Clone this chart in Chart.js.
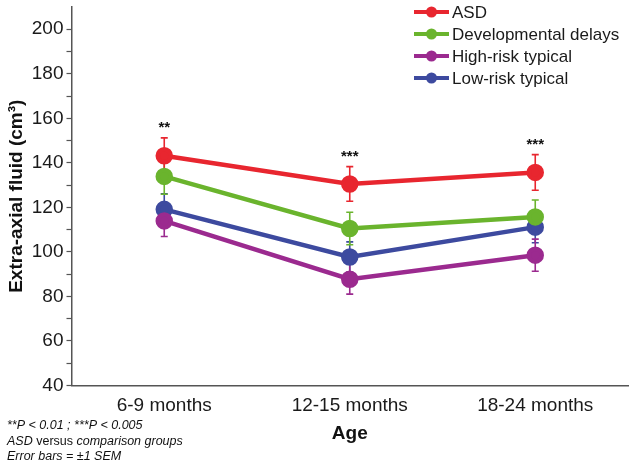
<!DOCTYPE html>
<html>
<head>
<meta charset="utf-8">
<script src="https://cdn.jsdelivr.net/npm/chart.js@4/dist/chart.umd.min.js"></script>
<style>
html,body{margin:0;padding:0;background:#fff;overflow:hidden;}
#wrap{width:633px;height:465px;position:relative;}
canvas{display:block;}
</style>
</head>
<body>
<div id="wrap"><canvas id="c" width="633" height="465"></canvas></div>
<script>
const categories = ["6-9 months", "12-15 months", "18-24 months"];
const seriesNames = ["ASD", "Developmental delays", "High-risk typical", "Low-risk typical"];
const asd = [143.2, 130.5, 135.7];
const devDelays = [133.9, 110.5, 115.7];
const highRisk = [113.9, 87.7, 98.5];
const lowRisk = [119.1, 97.7, 111.1];
const asdErr = [8.0, 7.8, 8.0];
const devDelaysErr = [8.0, 7.3, 7.6];
const highRiskErr = [7.0, 6.7, 7.2];
const lowRiskErr = [7.0, 6.8, 7.0];
const significance = ["**", "***", "***"];
const yTickLabels = [40, 60, 80, 100, 120, 140, 160, 180, 200];
const footnotes = [
  [["**P < 0.01 ; ***P < 0.005", true]],
  [["ASD", true], [" versus ", false], ["comparison groups", true]],
  [["Error bars = \u00b11 SEM", true]]
];

const colors = ["#e8262f", "#6ab42d", "#9b2a8f", "#3d4a9f"];
const values = [asd, devDelays, highRisk, lowRisk];
const errs = [asdErr, devDelaysErr, highRiskErr, lowRiskErr];
const FONT = "'Liberation Sans', Arial, sans-serif";

const errorBarPlugin = {
  id: 'errorBars',
  beforeDatasetsDraw(chart) {
    const ctx = chart.ctx;
    const ys = chart.scales.y;
    ctx.save();
    for (let d = values.length - 1; d >= 0; d--) {
      const meta = chart.getDatasetMeta(d);
      ctx.strokeStyle = colors[d];
      ctx.lineWidth = 1.6;
      meta.data.forEach((pt, i) => {
        const x = pt.x;
        const yt = ys.getPixelForValue(values[d][i] + errs[d][i]);
        const yb = ys.getPixelForValue(values[d][i] - errs[d][i]);
        ctx.beginPath();
        ctx.moveTo(x, yt); ctx.lineTo(x, yb);
        ctx.moveTo(x - 3.5, yt); ctx.lineTo(x + 3.5, yt);
        ctx.moveTo(x - 3.5, yb); ctx.lineTo(x + 3.5, yb);
        ctx.stroke();
      });
    }
    ctx.restore();
  },
  afterDraw(chart) {
    const ctx = chart.ctx;
    const ys = chart.scales.y;
    ctx.save();
    const meta0 = chart.getDatasetMeta(0);
    ctx.fillStyle = "#111";
    ctx.font = "bold 15px " + FONT;
    ctx.textAlign = "center";
    ctx.textBaseline = "middle";
    meta0.data.forEach((pt, i) => {
      const yt = ys.getPixelForValue(asd[i] + asdErr[i]);
      ctx.fillText(significance[i], pt.x, yt - 10);
    });
    ctx.textAlign = "left";
    ctx.font = "17px " + FONT;
    const lx0 = 414, lx1 = 449, rowY = [12, 34, 56, 78];
    seriesNames.forEach((name, i) => {
      const y = rowY[i];
      ctx.strokeStyle = colors[i];
      ctx.lineWidth = 4;
      ctx.beginPath(); ctx.moveTo(lx0, y); ctx.lineTo(lx1, y); ctx.stroke();
      ctx.fillStyle = colors[i];
      ctx.beginPath(); ctx.arc((lx0 + lx1) / 2, y, 5.5, 0, Math.PI * 2); ctx.fill();
      ctx.fillStyle = "#1a1a1a";
      ctx.fillText(name, 452, y + 1);
    });
    ctx.fillStyle = "#111";
    const fy = [426, 442, 457];
    footnotes.forEach((line, i) => {
      let x = 7;
      line.forEach(([txt, it]) => {
        ctx.font = (it ? "italic " : "") + "12.5px " + FONT;
        ctx.fillText(txt, x, fy[i]);
        x += ctx.measureText(txt).width;
      });
    });
    ctx.restore();
  }
};

new Chart(document.getElementById('c'), {
  type: 'line',
  data: {
    labels: categories,
    datasets: seriesNames.map((name, i) => ({
      label: name,
      data: values[i],
      borderColor: colors[i],
      backgroundColor: colors[i],
      pointBackgroundColor: colors[i],
      pointBorderColor: colors[i],
      pointRadius: 6.5,
      pointHoverRadius: 6.5,
      borderWidth: 4.5,
      tension: 0
    }))
  },
  options: {
    responsive: false,
    animation: false,
    events: [],
    layout: { autoPadding: false, padding: { top: 7, right: 5, bottom: 20, left: 0 } },
    plugins: { legend: { display: false }, tooltip: { enabled: false } },
    scales: {
      x: {
        offset: true,
        grid: { display: true, drawOnChartArea: false, drawTicks: false },
        border: { display: true, color: '#555', width: 1.5 },
        ticks: { color: '#1a1a1a', font: { family: FONT, size: 19 }, padding: 9 },
        title: { display: true, text: 'Age', color: '#111', font: { family: FONT, size: 19, weight: 'bold' }, padding: { top: -4, bottom: 0 } },
        afterFit(scale) { scale.paddingLeft = 0; scale.paddingRight = 0; }
      },
      y: {
        min: 40, max: 210,
        afterBuildTicks(scale) {
          const t = [];
          for (let v = 40; v <= 200; v += 10) t.push({ value: v });
          scale.ticks = t;
        },
        afterFit(scale) { scale.paddingTop = 0; scale.paddingBottom = 0; },
        grid: { display: true, drawOnChartArea: false, drawTicks: true, tickLength: 5, tickColor: '#555', tickWidth: 1.2 },
        border: { display: true, color: '#555', width: 1.5 },
        ticks: {
          color: '#1a1a1a', font: { family: FONT, size: 19 }, padding: 3, autoSkip: false,
          callback: (v) => yTickLabels.includes(v) ? String(v) : ''
        },
        title: { display: true, text: 'Extra-axial fluid (cm\u00b3)', color: '#111', font: { family: FONT, size: 19, weight: 'bold' }, padding: { top: 5, bottom: 1 } }
      }
    }
  },
  plugins: [errorBarPlugin]
});
</script>
</body>
</html>
